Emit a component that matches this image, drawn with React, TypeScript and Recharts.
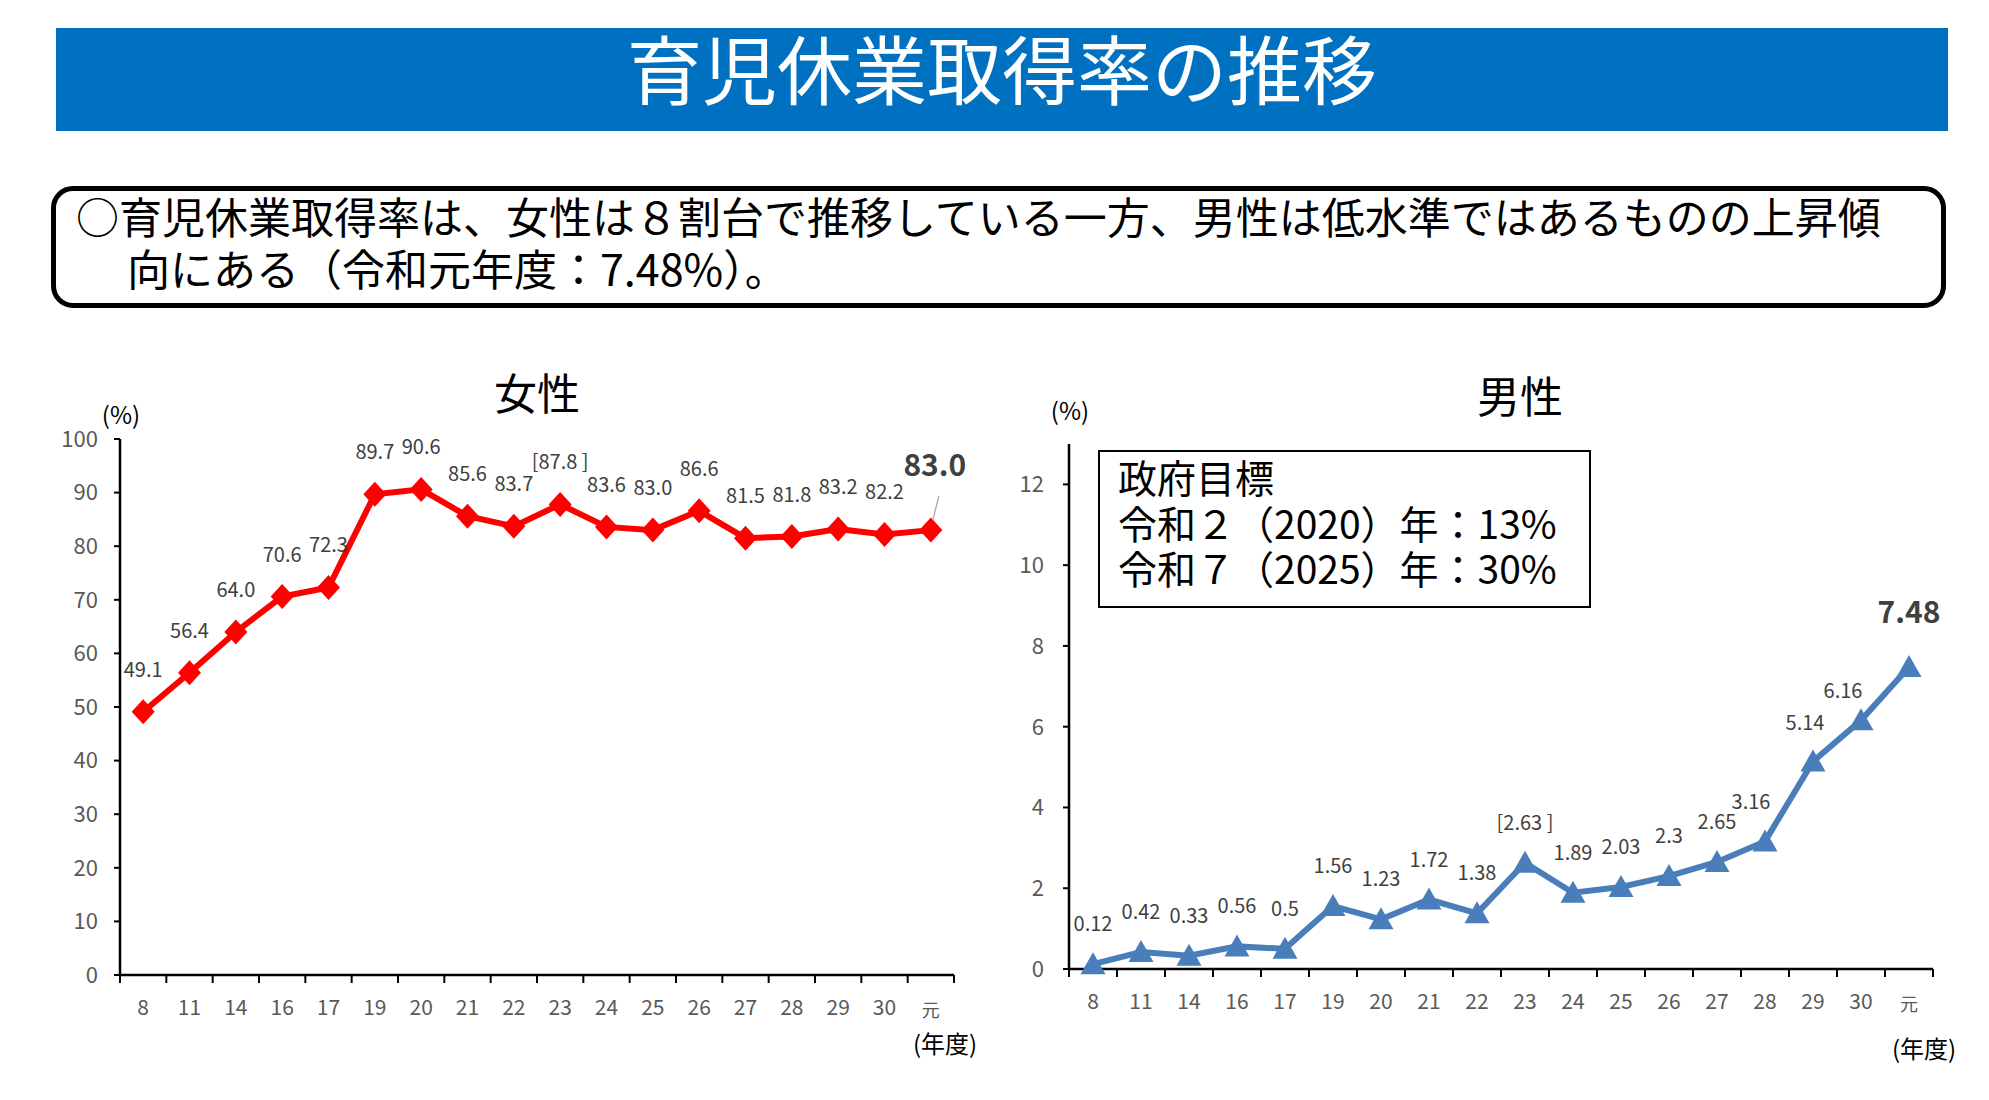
import React from 'react';
import { LineChart, Line, XAxis, YAxis, LabelList } from 'recharts';

// 年度 (平成8年度〜令和元年度)
const years = ['8', '11', '14', '16', '17', '19', '20', '21', '22', '23', '24', '25', '26', '27', '28', '29', '30', '元'];
const femaleRate = [49.1, 56.4, 64.0, 70.6, 72.3, 89.7, 90.6, 85.6, 83.7, 87.8, 83.6, 83.0, 86.6, 81.5, 81.8, 83.2, 82.2, 83.0];
const maleRate = [0.12, 0.42, 0.33, 0.56, 0.5, 1.56, 1.23, 1.72, 1.38, 2.63, 1.89, 2.03, 2.3, 2.65, 3.16, 5.14, 6.16, 7.48];
const femaleTicks = [0, 10, 20, 30, 40, 50, 60, 70, 80, 90, 100];
const maleTicks = [0, 2, 4, 6, 8, 10, 12];
const bracketYear = '23';
const goalLines = ['政府目標', '令和２（2020）年：13%', '令和７（2025）年：30%'];
const summaryLines = ['○育児休業取得率は、女性は８割台で推移している一方、男性は低水準ではあるものの上昇傾', '\u3000向にある（令和元年度：7.48%）。'];

const data = years.map((year, i) => ({ year, female: femaleRate[i], male: maleRate[i] }));

const FONT = '"Noto Sans CJK JP", "Noto Sans", sans-serif';
const TICK_GRAY = '#595959';
const LABEL_GRAY = '#404040';
const RED = '#FF0000';
const BLUE = '#4A7EBB';

const Txt = ({ x, y, size, children, color = '#000', anchor = 'middle', weight = 400 }: any) => (
  <div
    style={{
      position: 'absolute',
      left: x,
      top: y,
      transform: anchor === 'middle' ? 'translate(-50%, -50%)' : 'translate(0, -50%)',
      fontSize: size,
      fontFamily: FONT,
      color,
      fontWeight: weight,
      whiteSpace: 'nowrap',
      lineHeight: 1,
    }}
  >
    {children}
  </div>
);

// several lines in one block, top = first line's top edge
const Block = ({ x, y, size, lineHeight, lines, indent = 0 }: any) => (
  <div
    style={{
      position: 'absolute',
      left: x,
      top: y,
      fontSize: size,
      fontFamily: FONT,
      lineHeight: `${lineHeight}px`,
      whiteSpace: 'pre',
      color: '#000',
    }}
  >
    {lines.map((l: string, i: number) => (
      <div key={i} style={{ marginLeft: i > 0 ? indent : 0 }}>{l}</div>
    ))}
  </div>
);

const makeXTick = (bandWidth: number) => (props: any) => {
  const { x, y, payload, index } = props;
  const isGan = payload.value === '元';
  const last = index === years.length - 1;
  return (
    <g>
      <line x1={x - bandWidth / 2} y1={y} x2={x - bandWidth / 2} y2={y + 8} stroke="#000" strokeWidth={2} />
      {last && <line x1={x + bandWidth / 2} y1={y} x2={x + bandWidth / 2} y2={y + 8} stroke="#000" strokeWidth={2} />}
      <text
        x={x}
        y={y + 33 + (isGan ? 3 : 0)}
        dy="0.35em"
        textAnchor="middle"
        fill={TICK_GRAY}
        fontSize={isGan ? 18 : 21}
        fontFamily={FONT}
      >
        {payload.value}
      </text>
    </g>
  );
};

const diamondDot = (props: any) => {
  const { cx, cy, index } = props;
  if (cx == null || cy == null) return <g key={index} />;
  const w = 11.5;
  const h = 12.5;
  return (
    <polygon
      key={index}
      points={`${cx},${cy - h} ${cx + w},${cy} ${cx},${cy + h} ${cx - w},${cy}`}
      fill={RED}
    />
  );
};

const triangleDot = (props: any) => {
  const { cx, cy, index } = props;
  if (cx == null || cy == null) return <g key={index} />;
  const w = 12.5;
  return (
    <polygon
      key={index}
      points={`${cx},${cy - 12} ${cx + w},${cy + 10} ${cx - w},${cy + 10}`}
      fill={BLUE}
    />
  );
};

const femaleLabel = (props: any) => {
  const { x, y, value, index } = props;
  const last = index === years.length - 1;
  const text = value.toFixed(1);
  if (last) {
    return (
      <g key={index}>
        <line x1={x + 8} y1={y - 34} x2={x + 2} y2={y - 10} stroke="#A6A6A6" strokeWidth={1.2} />
        <text x={x + 4} y={y - 65} dy="0.35em" textAnchor="middle" fill={LABEL_GRAY} fontSize={30} fontWeight={700} fontFamily={FONT}>
          {text}
        </text>
      </g>
    );
  }
  return (
    <text key={index} x={x} y={y - 42} dy="0.35em" textAnchor="middle" fill={LABEL_GRAY} fontSize={20} fontFamily={FONT}>
      {years[index] === bracketYear ? `[${text} ]` : text}
    </text>
  );
};

const maleOffsets: Record<number, [number, number]> = { 14: [-14, -39], 15: [-8, -38], 16: [-18, -29] };

const maleLabel = (props: any) => {
  const { x, y, value, index } = props;
  const last = index === years.length - 1;
  const text = String(value);
  if (last) {
    return (
      <text key={index} x={x} y={y - 54} dy="0.35em" textAnchor="middle" fill={LABEL_GRAY} fontSize={30} fontWeight={700} fontFamily={FONT}>
        {text}
      </text>
    );
  }
  const [dx, dy] = maleOffsets[index] || [0, -40];
  return (
    <text key={index} x={x + dx} y={y + dy} dy="0.35em" textAnchor="middle" fill={LABEL_GRAY} fontSize={20} fontFamily={FONT}>
      {years[index] === bracketYear ? `[${text} ]` : text}
    </text>
  );
};

const axisLine = { stroke: '#000', strokeWidth: 2.5 };

export default function App() {
  return (
    <div style={{ position: 'absolute', left: 0, top: 0, width: 1989, height: 1100, background: '#fff', fontFamily: FONT }}>
      {/* header */}
      <div
        style={{
          position: 'absolute',
          left: 56,
          top: 28,
          width: 1892,
          height: 103,
          background: '#0070C0',
        }}
      />
      <Txt x={1002} y={66} size={75} color="#fff">育児休業取得率の推移</Txt>

      {/* summary box */}
      <div
        style={{
          position: 'absolute',
          left: 51,
          top: 186,
          width: 1895,
          height: 122,
          boxSizing: 'border-box',
          border: '5px solid #000',
          borderRadius: 22,
        }}
      />
      <Block x={76} y={189} size={43} lineHeight={52} lines={summaryLines} indent={8} />

      {/* female chart */}
      <div style={{ position: 'absolute', left: 0, top: 380 }}>
        <LineChart width={1000} height={720} data={data} margin={{ top: 59, right: 46, bottom: 65, left: 0 }}>
          <XAxis
            dataKey="year"
            scale="band"
            height={60}
            axisLine={axisLine}
            tickLine={false}
            tickSize={0}
            tickMargin={0}
            interval={0}
            tick={makeXTick(834 / 18)}
          />
          <YAxis
            width={120}
            domain={[0, 100]}
            ticks={femaleTicks}
            interval={0}
            axisLine={axisLine}
            tickLine={{ stroke: '#000', strokeWidth: 2 }}
            tickSize={6}
            tickMargin={16}
            tick={{ fill: TICK_GRAY, fontSize: 22, fontFamily: FONT }}
          />
          <Line dataKey="female" stroke={RED} strokeWidth={6} dot={diamondDot} isAnimationActive={false}>
            <LabelList dataKey="female" content={femaleLabel} />
          </Line>
        </LineChart>
      </div>
      <Txt x={537} y={391} size={43}>女性</Txt>
      <Txt x={121} y={414} size={24}>(%)</Txt>
      <Txt x={945} y={1043} size={24}>(年度)</Txt>

      {/* male chart */}
      <div style={{ position: 'absolute', left: 1000, top: 380 }}>
        <LineChart width={989} height={720} data={data} margin={{ top: 64, right: 56, bottom: 71, left: 0 }}>
          <XAxis
            dataKey="year"
            scale="band"
            height={60}
            axisLine={axisLine}
            tickLine={false}
            tickSize={0}
            tickMargin={0}
            interval={0}
            tick={makeXTick(864 / 18)}
          />
          <YAxis
            width={69}
            domain={[0, 13]}
            ticks={maleTicks}
            interval={0}
            axisLine={axisLine}
            tickLine={{ stroke: '#000', strokeWidth: 2 }}
            tickSize={6}
            tickMargin={19}
            tick={{ fill: TICK_GRAY, fontSize: 22, fontFamily: FONT }}
          />
          <Line dataKey="male" stroke={BLUE} strokeWidth={6} dot={triangleDot} isAnimationActive={false}>
            <LabelList dataKey="male" content={maleLabel} />
          </Line>
        </LineChart>
      </div>
      <Txt x={1520} y={394} size={43}>男性</Txt>
      <Txt x={1070} y={410} size={24}>(%)</Txt>
      <Txt x={1924} y={1048} size={24}>(年度)</Txt>

      {/* government target box */}
      <div
        style={{
          position: 'absolute',
          left: 1098,
          top: 450,
          width: 493,
          height: 158,
          boxSizing: 'border-box',
          border: '2.5px solid #000',
          background: '#fff',
        }}
      />
      <Block x={1118} y={454} size={39} lineHeight={45.5} lines={goalLines} />
    </div>
  );
}
